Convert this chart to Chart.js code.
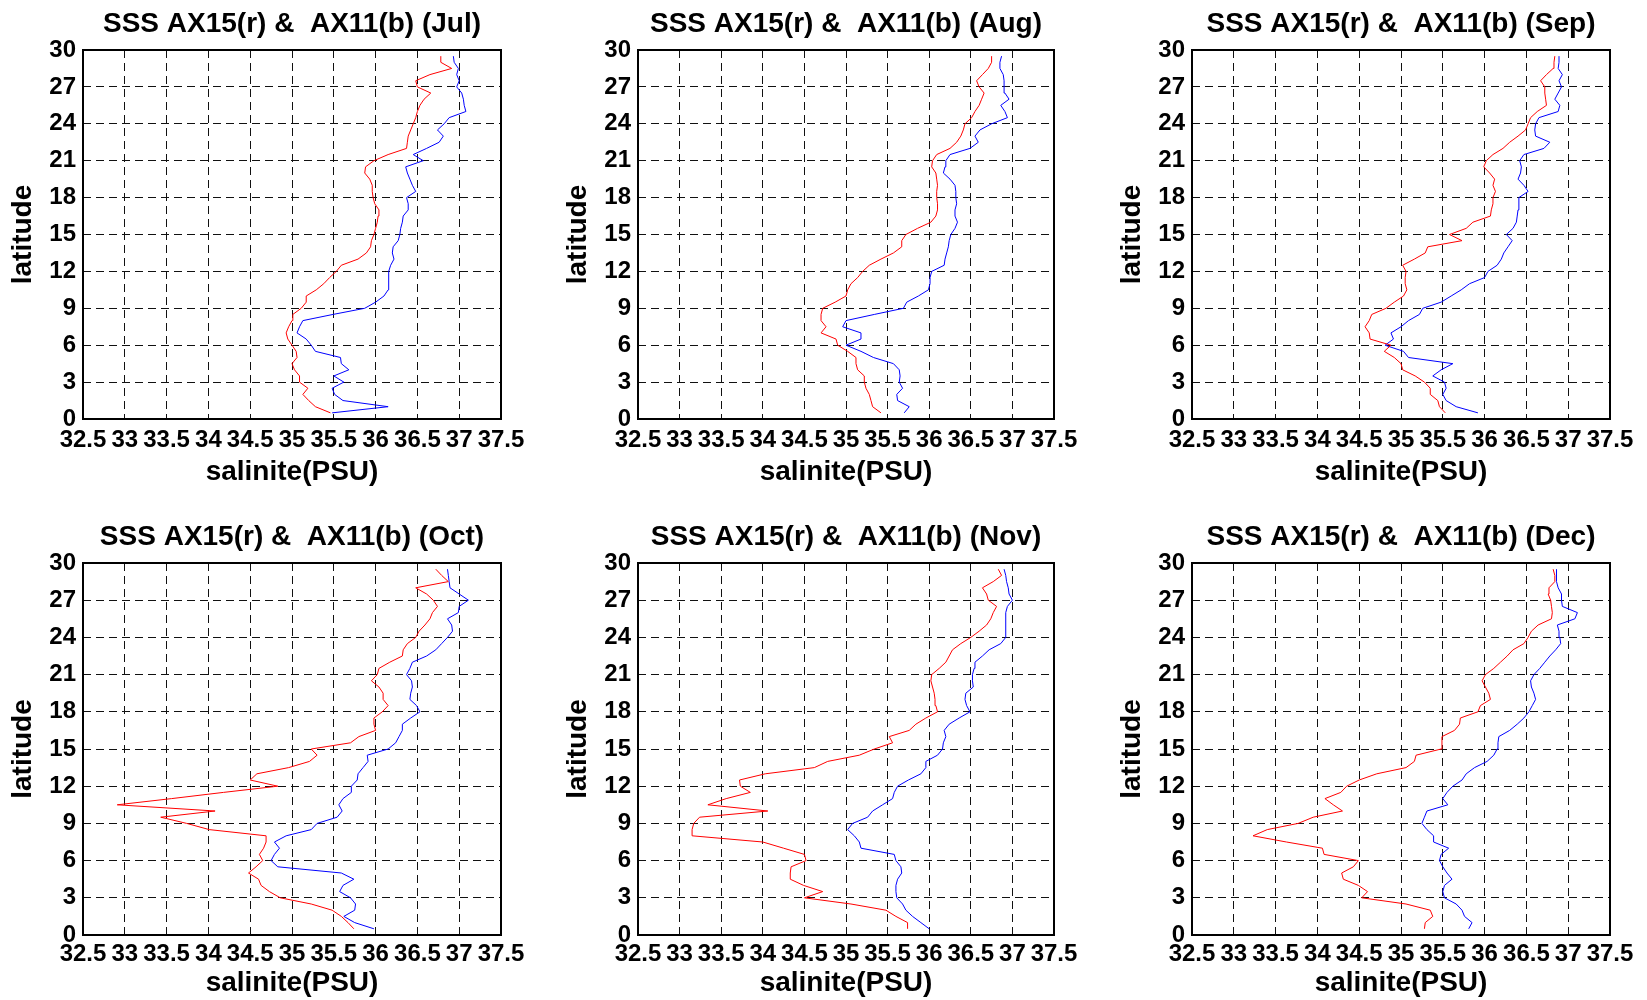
<!DOCTYPE html>
<html>
<head>
<meta charset="utf-8">
<script src="https://cdn.jsdelivr.net/npm/chart.js@4.4.1/dist/chart.umd.min.js"></script>
<style>
html,body{margin:0;padding:0;background:#fff;width:1647px;height:1000px;overflow:hidden;}
canvas{position:absolute;}
</style>
</head>
<body>
<script>
// ---------- DATA ----------
const LAT = [0.5,1,1.5,2,2.5,3,3.5,4,4.5,5,5.5,6,6.5,7,7.5,8,8.5,9,9.5,10,
  10.5,11,11.5,12,12.5,13,13.5,14,14.5,15,15.5,16,16.5,17,17.5,18,18.5,19,19.5,20,
  20.5,21,21.5,22,22.5,23,23.5,24,24.5,25,25.5,26,26.5,27,27.5,28,28.5,29,29.5];

const X_TICKS = [32.5,33,33.5,34,34.5,35,35.5,36,36.5,37,37.5];
const Y_TICKS = [0,3,6,9,12,15,18,21,24,27,30];
const MONTHS = ['Jul','Aug','Sep','Oct','Nov','Dec'];

// AX15 = red, AX11 = blue ; salinity (PSU) at each latitude of LAT
const JUL_AX15 = [35.46,35.28,35.2,35.13,35.19,35.09,35.09,35.03,35.0,35.06,
  35.05,35.0,34.95,34.93,34.96,35.0,35.01,35.11,35.17,35.17,
  35.29,35.38,35.45,35.53,35.59,35.79,35.89,35.94,35.95,35.98,
  36.0,36.02,36.03,36.04,35.99,35.97,35.96,35.96,35.93,35.87,
  35.88,35.98,36.15,36.37,36.38,36.39,36.42,36.45,36.48,36.5,
  36.53,36.58,36.66,36.5,36.48,36.65,36.91,36.78,36.78];
const JUL_AX11 = [35.48,36.15,35.61,35.51,35.48,35.62,35.5,35.68,35.59,35.58,
  35.28,35.23,35.17,35.06,35.09,35.13,35.49,35.87,36.0,36.1,
  36.15,36.16,36.16,36.15,36.18,36.22,36.2,36.21,36.27,36.29,
  36.3,36.32,36.33,36.39,36.39,36.37,36.48,36.44,36.41,36.38,
  36.36,36.57,36.45,36.61,36.76,36.81,36.74,36.82,36.88,37.08,
  37.06,37.05,37.03,36.97,37.0,36.97,36.99,36.94,36.93];

const AUG_AX15 = [35.42,35.32,35.3,35.28,35.24,35.22,35.22,35.14,35.12,35.12,
  35.02,34.9,34.88,34.7,34.76,34.7,34.7,34.72,34.87,35.0,
  35.02,35.06,35.14,35.2,35.28,35.42,35.57,35.67,35.67,35.72,
  35.86,36.02,36.08,36.1,36.1,36.09,36.09,36.1,36.09,36.08,
  36.03,36.04,36.09,36.25,36.33,36.38,36.41,36.43,36.51,36.55,
  36.6,36.63,36.66,36.6,36.57,36.64,36.71,36.75,36.75];
const AUG_AX11 = [35.7,35.76,35.62,35.61,35.68,35.64,35.65,35.64,35.57,35.33,
  35.18,35.0,35.18,35.18,34.96,35.0,35.34,35.69,35.73,35.87,
  35.99,36.01,36.01,36.03,36.18,36.19,36.21,36.23,36.24,36.26,
  36.31,36.34,36.31,36.31,36.33,36.32,36.32,36.31,36.25,36.17,
  36.19,36.2,36.25,36.49,36.59,36.55,36.61,36.75,36.94,36.91,
  36.86,36.96,36.91,36.9,36.9,36.89,36.85,36.85,36.87];

const SEP_AX15 = [35.53,35.46,35.44,35.35,35.35,35.28,35.17,35.02,35.0,34.92,
  34.8,34.88,34.63,34.62,34.57,34.62,34.65,34.82,34.92,35.03,
  35.07,35.05,35.05,35.06,35.02,35.16,35.29,35.32,35.73,35.58,
  35.78,35.86,36.07,36.08,36.1,36.1,36.13,36.1,36.12,36.06,
  35.99,36.02,36.1,36.22,36.3,36.4,36.49,36.52,36.55,36.63,
  36.74,36.73,36.72,36.72,36.67,36.74,36.82,36.83,36.84];
const SEP_AX11 = [35.92,35.66,35.54,35.5,35.54,35.52,35.38,35.48,35.62,35.09,
  35.03,34.81,34.91,34.88,35.0,35.09,35.22,35.26,35.48,35.6,
  35.72,35.82,36.0,36.04,36.15,36.2,36.23,36.28,36.33,36.26,
  36.34,36.38,36.39,36.4,36.41,36.41,36.52,36.47,36.4,36.43,
  36.44,36.42,36.47,36.71,36.78,36.61,36.6,36.61,36.65,36.88,
  36.9,36.84,36.88,36.92,36.89,36.93,36.88,36.89,36.89];

const OCT_AX15 = [35.74,35.67,35.59,35.48,35.23,34.86,34.73,34.63,34.6,34.48,
  34.57,34.65,34.61,34.66,34.69,34.69,34.01,33.74,33.43,34.08,
  32.91,33.56,34.18,34.83,34.5,34.58,34.96,35.21,35.3,35.23,
  35.7,35.8,36.0,35.98,35.98,36.08,36.15,36.09,36.09,36.04,
  35.95,36.02,36.04,36.17,36.32,36.33,36.38,36.48,36.52,36.59,
  36.65,36.68,36.74,36.69,36.61,36.48,36.87,36.79,36.72];
const OCT_AX11 = [35.98,35.75,35.62,35.75,35.76,35.7,35.57,35.61,35.74,35.59,
  34.83,34.75,34.79,34.85,34.79,34.93,35.23,35.3,35.54,35.6,
  35.56,35.61,35.71,35.71,35.78,35.79,35.85,35.91,35.9,36.15,
  36.24,36.28,36.32,36.32,36.42,36.53,36.49,36.41,36.42,36.44,
  36.43,36.37,36.41,36.44,36.61,36.72,36.79,36.86,36.92,36.91,
  36.86,36.99,37.0,37.11,37.0,36.89,36.88,36.87,36.86];

const NOV_AX15 = [35.74,35.74,35.6,35.48,35.06,34.5,34.72,34.49,34.33,34.33,
  34.34,34.52,34.5,34.25,34.0,33.15,33.15,33.17,33.24,34.06,
  33.34,33.56,33.85,33.73,33.72,34.03,34.62,34.78,35.16,35.34,
  35.56,35.52,35.76,35.84,35.96,36.1,36.08,36.07,36.06,36.04,
  36.02,36.03,36.12,36.2,36.24,36.28,36.38,36.5,36.6,36.69,
  36.74,36.77,36.81,36.71,36.69,36.64,36.77,36.87,36.83];
const NOV_AX11 = [36.0,35.9,35.8,35.72,35.68,35.61,35.6,35.6,35.62,35.67,
  35.66,35.6,35.58,35.18,35.16,35.1,35.02,35.08,35.26,35.32,
  35.44,35.56,35.58,35.62,35.75,35.9,35.96,35.96,36.1,36.16,
  36.17,36.2,36.18,36.24,36.36,36.49,36.45,36.43,36.44,36.53,
  36.52,36.52,36.54,36.55,36.64,36.72,36.86,36.92,36.92,36.92,
  36.92,36.92,36.94,37.0,36.96,36.95,36.93,36.92,36.9];

const DEC_AX15 = [35.28,35.29,35.38,35.35,35.06,34.53,34.6,34.49,34.31,34.29,
  34.43,34.49,34.08,34.06,33.63,33.23,33.4,33.77,33.95,34.3,
  34.19,34.09,34.28,34.35,34.5,34.71,35.06,35.16,35.18,35.48,
  35.49,35.49,35.64,35.7,35.71,35.92,35.95,36.07,36.05,36.01,
  35.97,36.01,36.11,36.19,36.27,36.34,36.47,36.52,36.56,36.64,
  36.8,36.81,36.8,36.79,36.76,36.77,36.84,36.84,36.82];
const DEC_AX11 = [35.81,35.85,35.76,35.73,35.66,35.52,35.5,35.52,35.61,35.55,
  35.5,35.46,35.48,35.57,35.39,35.39,35.31,35.25,35.28,35.31,
  35.56,35.5,35.55,35.62,35.73,35.78,35.88,36.03,36.11,36.15,
  36.16,36.17,36.3,36.39,36.47,36.53,36.57,36.61,36.59,36.56,
  36.55,36.59,36.66,36.72,36.78,36.85,36.91,36.9,36.89,36.87,
  37.08,37.11,36.93,36.92,36.92,36.88,36.86,36.86,36.86];

const RED_SERIES = [JUL_AX15, AUG_AX15, SEP_AX15, OCT_AX15, NOV_AX15, DEC_AX15];
const BLUE_SERIES = [JUL_AX11, AUG_AX11, SEP_AX11, OCT_AX11, NOV_AX11, DEC_AX11];

// ---------- LAYOUT ----------
const COL_LEFT = [83, 638, 1192];
const COL_W = [418, 416, 418];
const ROW_TOP = [50, 563];
const ROW_H = [369, 372];
const ML = 83, MT = 50, MR = 32;
const MB = [78, 66];
const XTICK_PAD = [6.5, 5];
const XTITLE_PADB = [7.9, 0.6];
const FAMILY = '"Liberation Sans", Arial, Helvetica, sans-serif';
const TITLE_SIZE = 28, LABEL_SIZE = 28, TICK_SIZE = 24;

Chart.defaults.font.family = FAMILY;

const boxPlugin = {
  id: 'axesBox',
  afterDraw(chart) {
    const a = chart.chartArea, ctx = chart.ctx;
    ctx.save();
    ctx.strokeStyle = '#000';
    ctx.lineWidth = 2;
    ctx.setLineDash([]);
    ctx.strokeRect(a.left, a.top, a.right - a.left, a.bottom - a.top);
    ctx.restore();
  }
};

MONTHS.forEach((m, k) => {
  const r = Math.floor(k / 3), c = k % 3;
  const cv = document.createElement('canvas');
  const w = ML + COL_W[c] + MR;
  const h = MT + ROW_H[r] + MB[r];
  cv.width = w; cv.height = h;
  cv.style.left = (COL_LEFT[c] - ML) + 'px';
  cv.style.top = (ROW_TOP[r] - MT) + 'px';
  cv.style.width = w + 'px'; cv.style.height = h + 'px';
  document.body.appendChild(cv);

  const red = RED_SERIES[k], blue = BLUE_SERIES[k];
  const bold = (s) => ({family: FAMILY, size: s, weight: 'bold', lineHeight: 1.2});
  const titleLH = TITLE_SIZE * 1.2;

  new Chart(cv, {
    type: 'scatter',
    data: {
      datasets: [
        { label: 'AX15', data: LAT.map((y, i) => ({x: red[i], y})), showLine: true,
          borderColor: '#ff0000', backgroundColor: '#ff0000', borderWidth: 1, pointRadius: 0, tension: 0 },
        { label: 'AX11', data: LAT.map((y, i) => ({x: blue[i], y})), showLine: true,
          borderColor: '#0000ff', backgroundColor: '#0000ff', borderWidth: 1, pointRadius: 0, tension: 0 }
      ]
    },
    options: {
      responsive: false,
      animation: false,
      devicePixelRatio: 1,
      layout: { padding: { left: 0, top: 0, right: MR, bottom: 0 } },
      plugins: {
        legend: { display: false },
        tooltip: { enabled: false },
        title: {
          display: true, fullSize: false,
          text: 'SSS AX15(r) &  AX11(b) (' + m + ')',
          color: '#000', font: bold(TITLE_SIZE),
          padding: { top: 7, bottom: MT - 7 - titleLH }
        }
      },
      scales: {
        x: {
          type: 'linear', position: 'bottom', min: 32.5, max: 37.5,
          afterBuildTicks: (s) => { s.ticks = X_TICKS.map(v => ({value: v})); },
          ticks: { autoSkip: false, maxRotation: 0, minRotation: 0, padding: XTICK_PAD[r],
                   color: '#000', font: bold(TICK_SIZE), callback: (v) => String(v) },
          grid: { color: '#111', lineWidth: 1, drawTicks: false },
          border: { display: false, dash: [8, 5] },
          title: { display: true, text: 'salinite(PSU)', color: '#000', font: bold(LABEL_SIZE),
                   padding: { top: 0, bottom: XTITLE_PADB[r] } },
          afterFit: (s) => { s.height = MB[r]; }
        },
        y: {
          type: 'linear', position: 'left', min: 0, max: 30,
          afterBuildTicks: (s) => { s.ticks = Y_TICKS.map(v => ({value: v})); },
          ticks: { autoSkip: false, padding: 7, color: '#000', font: bold(TICK_SIZE),
                   callback: (v) => String(v) },
          grid: { color: '#111', lineWidth: 1, drawTicks: false },
          border: { display: false, dash: [8, 5] },
          title: { display: true, text: 'latitude', color: '#000', font: bold(LABEL_SIZE),
                   padding: { top: 6, bottom: 0 } },
          afterFit: (s) => { s.width = ML; }
        }
      }
    },
    plugins: [boxPlugin]
  });
});
</script>
</body>
</html>
